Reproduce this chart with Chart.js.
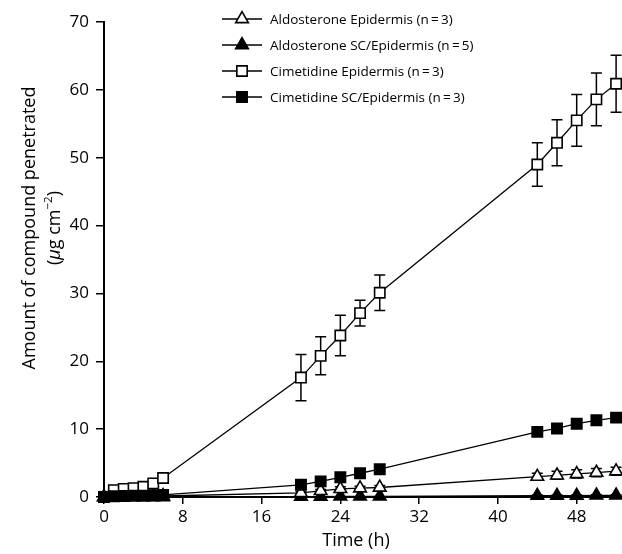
<!DOCTYPE html>
<html>
<head>
<meta charset="utf-8">
<script src="https://cdn.jsdelivr.net/npm/chart.js@4/dist/chart.umd.min.js"></script>
<style>
  html,body{margin:0;padding:0;background:#fff;}
  #wrap{width:622px;height:554px;}
</style>
</head>
<body>
<div id="wrap"><canvas id="penetration" width="622" height="554"></canvas></div>
<script>
// sampling times (h)
var times=[0,1,2,3,4,5,6,20,22,24,26,28,44,46,48,50,52];

// cumulative amount penetrated (ug cm-2), mean and SD per series
var aldoEpi=[0,0.05,0.05,0.1,0.1,0.1,0.15,0.6,0.9,1.2,1.3,1.4,3.0,3.2,3.4,3.6,3.8];
var aldoEpiErr=[0,0,0,0,0,0,0,0.2,0.2,0.3,0.3,0.3,0.5,0.6,0.6,0.6,0.6];
var aldoSC=[0,0,0,0,0,0,0,0.05,0.05,0.1,0.1,0.1,0.2,0.2,0.2,0.25,0.25];
var aldoSCErr=[0,0,0,0,0,0,0,0,0,0,0,0,0.1,0.1,0.1,0.1,0.1];
var cimEpi=[0,1.0,1.2,1.3,1.5,2.0,2.8,17.6,20.8,23.8,27.1,30.1,49.0,52.2,55.5,58.6,60.9];
var cimEpiErr=[0,0,0,0,0,0.2,0.3,3.4,2.8,3.0,1.9,2.6,3.2,3.4,3.8,3.9,4.2];
var cimSC=[0,0.1,0.15,0.2,0.2,0.25,0.3,1.8,2.3,2.9,3.5,4.1,9.6,10.1,10.8,11.3,11.7];
var cimSCErr=[0,0,0,0,0,0,0,0.2,0.2,0.3,0.3,0.3,0.4,0.5,0.5,0.5,0.5];

var seriesNames=['Aldosterone Epidermis (n\u2009=\u20093)','Aldosterone SC/Epidermis (n\u2009=\u20095)',
                 'Cimetidine Epidermis (n\u2009=\u20093)','Cimetidine SC/Epidermis (n\u2009=\u20093)'];
var xTicks=[0,8,16,24,32,40,48];
var yTicks=[0,10,20,30,40,50,60,70];
var xTitle='Time (h)';
var yTitleText='Amount of compound penetrated';

var textFont='"Open Sans", "Noto Sans", sans-serif';

// stack: lower "layer" is painted on top
var makeSet=function(name,vals,errs,style,open,layer){
    return {
        label:name,
        data:times.map(function(t,i){return {x:t,y:vals[i]};}),
        errors:errs,
        order:layer,
        borderColor:'#000',
        borderWidth:1.3,
        pointStyle:style,
        pointRadius:7.3,
        pointHoverRadius:7.3,
        pointBorderWidth:1.6,
        pointBorderColor:'#000',
        pointBackgroundColor:open?'#fff':'#000',
        showLine:true,
        fill:false,
        tension:0,
        clip:false
    };
};

var datasets=[
    makeSet(seriesNames[0],aldoEpi,aldoEpiErr,'triangle',true,2),
    makeSet(seriesNames[1],aldoSC,aldoSCErr,'triangle',false,3),
    makeSet(seriesNames[2],cimEpi,cimEpiErr,'rect',true,1),
    makeSet(seriesNames[3],cimSC,cimSCErr,'rect',false,0)
];

// vertical SD bars with caps, drawn under the markers
var errorBars={
    id:'errorBars',
    beforeDatasetsDraw:function(chart){
        var ctx=chart.ctx,xs=chart.scales.x,ys=chart.scales.y;
        ctx.save();
        ctx.strokeStyle='#000';
        ctx.lineWidth=1.5;
        chart.data.datasets.forEach(function(ds){
            ds.data.forEach(function(p,i){
                var e=ds.errors[i];
                if(!e) return;
                var px=xs.getPixelForValue(p.x),
                    top=ys.getPixelForValue(p.y+e),
                    bot=ys.getPixelForValue(p.y-e);
                ctx.beginPath();
                ctx.moveTo(px,top);ctx.lineTo(px,bot);
                ctx.moveTo(px-5.5,top);ctx.lineTo(px+5.5,top);
                ctx.moveTo(px-5.5,bot);ctx.lineTo(px+5.5,bot);
                ctx.stroke();
            });
        });
        ctx.restore();
    }
};

// key in the upper left: line sample with marker, then the series name
var keyBox={
    id:'keyBox',
    afterDatasetsDraw:function(chart){
        var ctx=chart.ctx,rowY=[19,45,71,97];
        ctx.save();
        chart.data.datasets.forEach(function(ds,i){
            var y=rowY[i];
            ctx.strokeStyle='#000';
            ctx.lineWidth=1.3;
            ctx.beginPath();
            ctx.moveTo(222,y);ctx.lineTo(262,y);
            ctx.stroke();
            ctx.fillStyle=ds.pointBackgroundColor;
            ctx.lineWidth=ds.pointBorderWidth;
            Chart.helpers.drawPoint(ctx,{pointStyle:ds.pointStyle,rotation:0,radius:ds.pointRadius,borderWidth:ds.pointBorderWidth},242,y);
            ctx.fillStyle='#000';
            ctx.font='13.5px '+textFont;
            ctx.textBaseline='middle';
            ctx.fillText(ds.label,270,y+1);
        });
        ctx.restore();
    }
};

// axis titles; the unit line has an italic mu and a superscript exponent
var axisTitles={
    id:'axisTitles',
    afterDraw:function(chart){
        var ctx=chart.ctx,cy=228;
        ctx.save();
        ctx.fillStyle='#000';
        ctx.textBaseline='middle';
        ctx.textAlign='center';
        ctx.font='18px '+textFont;
        ctx.fillText(xTitle,356,541);
        ctx.translate(30,cy);
        ctx.rotate(-Math.PI/2);
        ctx.fillText(yTitleText,0,0);
        ctx.restore();

        var parts=[
            {t:'(',f:'18px '+textFont,dy:0},
            {t:'\u03bc',f:'italic 18px '+textFont,dy:0},
            {t:'g cm',f:'18px '+textFont,dy:0},
            {t:'\u22122',f:'11.5px '+textFont,dy:-6.5},
            {t:')',f:'18px '+textFont,dy:0}
        ];
        ctx.save();
        ctx.fillStyle='#000';
        ctx.textBaseline='middle';
        ctx.translate(55,cy);
        ctx.rotate(-Math.PI/2);
        var total=0;
        parts.forEach(function(p){ctx.font=p.f;p.w=ctx.measureText(p.t).width;total+=p.w;});
        var x=-total/2;
        ctx.textAlign='left';
        parts.forEach(function(p){ctx.font=p.f;ctx.fillText(p.t,x,p.dy);x+=p.w;});
        ctx.restore();
    }
};

new Chart(document.getElementById('penetration'),{
    type:'line',
    data:{datasets:datasets},
    plugins:[errorBars,keyBox,axisTitles],
    options:{
        responsive:false,
        animation:false,
        layout:{autoPadding:false,padding:{top:22,right:0,left:0,bottom:0}},
        plugins:{legend:{display:false},tooltip:{enabled:false}},
        scales:{
            x:{
                type:'linear',
                min:0,max:52.6,
                afterFit:function(s){s.height=57;s.paddingRight=0;s.paddingLeft=0;},
                afterBuildTicks:function(s){s.ticks=xTicks.map(function(v){return {value:v};});},
                border:{display:true,color:'#000',width:2},
                grid:{display:true,drawOnChartArea:false,color:'#000',lineWidth:1.5,tickLength:7},
                ticks:{color:'#000',font:{family:textFont,size:17},padding:3,maxRotation:0}
            },
            y:{
                type:'linear',
                min:0,max:70,
                afterFit:function(s){s.width=104;},
                afterBuildTicks:function(s){s.ticks=yTicks.map(function(v){return {value:v};});},
                border:{display:true,color:'#000',width:2},
                grid:{display:true,drawOnChartArea:false,color:'#000',lineWidth:1.5,tickLength:8},
                ticks:{color:'#000',font:{family:textFont,size:17},padding:7}
            }
        }
    }
});
</script>
</body>
</html>
